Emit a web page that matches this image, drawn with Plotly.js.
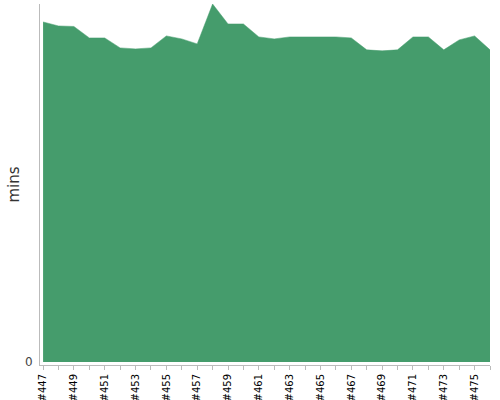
<!DOCTYPE html>
<html>
<head>
<meta charset="utf-8">
<script src="https://cdn.plot.ly/plotly-3.0.1.min.js"></script>
<style>html,body{margin:0;padding:0;background:#fff;}#chart{width:500px;height:400px;}</style>
</head>
<body>
<div id="chart"></div>
<script>
const builds = ["#447","#448","#449","#450","#451","#452","#453","#454","#455","#456",
  "#457","#458","#459","#460","#461","#462","#463","#464","#465","#466",
  "#467","#468","#469","#470","#471","#472","#473","#474","#475","#476"];
const mins = [34.1,33.7,33.65,32.5,32.5,31.5,31.4,31.5,32.7,32.4,
  31.9,35.9,33.9,33.9,32.6,32.4,32.6,32.6,32.6,32.6,
  32.5,31.3,31.2,31.3,32.6,32.6,31.3,32.3,32.7,31.3];
const yTicks = [0];
const yTitle = "mins";
const tickText = builds.map((b, i) => (i % 2 === 0 ? b : ""));

const trace = {
  x: builds,
  y: mins,
  type: "scatter",
  mode: "lines",
  fill: "tozeroy",
  fillcolor: "rgb(69,156,108)",
  line: {color: "rgb(69,156,108)", width: 0.5},
  hoverinfo: "x+y"
};

const layout = {
  width: 500, height: 400,
  margin: {l: 40, r: 10, t: 4, b: 35},
  paper_bgcolor: "#fff", plot_bgcolor: "#fff",
  showlegend: false,
  font: {family: "DejaVu Sans", color: "#000"},
  xaxis: {
    type: "category",
    range: [-0.2, builds.length - 1],
    tickmode: "array",
    tickvals: builds,
    ticktext: tickText,
    tickangle: -90,
    ticks: "outside", ticklen: 4, tickcolor: "#bbb",
    showline: true, linecolor: "#bbb", linewidth: 1,
    showgrid: false, zeroline: false,
    tickfont: {size: 10, color: "#000"}
  },
  yaxis: {
    range: [-0.3, 35.9],
    tickmode: "array",
    tickvals: yTicks,
    ticks: "", showgrid: false, zeroline: false,
    ticklabelstandoff: 4,
    showline: true, linecolor: "#bbb", linewidth: 1,
    tickfont: {size: 12, color: "#444"}
  },
  annotations: [{
    text: yTitle, textangle: -90,
    xref: "paper", yref: "paper", x: 0, y: 0.5,
    xanchor: "center", yanchor: "middle", xshift: -27,
    showarrow: false,
    font: {size: 15, color: "#333"}
  }]
};

Plotly.newPlot("chart", [trace], layout, {displayModeBar: false, staticPlot: true});
</script>
</body>
</html>
